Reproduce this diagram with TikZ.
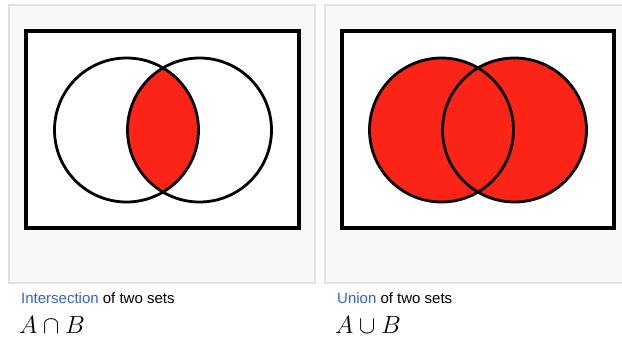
\documentclass[tikz,border=0pt]{standalone}
\usepackage{fontspec}
\newfontfamily\capfont{Liberation Sans}
\usetikzlibrary{positioning}

\definecolor{vennred}{RGB}{252,36,22}
\definecolor{linkblue}{RGB}{52,98,200}
\definecolor{panelgray}{RGB}{248,248,248}
\definecolor{panelline}{RGB}{224,224,224}

\begin{document}
\begin{tikzpicture}[
    x=1pt, y=-1pt,
    panel/.style={fill=panelgray, draw=panelline, line width=1.2pt},
    universe/.style={draw=black, fill=white, line width=3.6pt},
    setline/.style={draw=black, line width=2.8pt},
    setfill/.style={fill=vennred},
    caption/.style={font=\capfont\fontsize{15}{17}\selectfont, inner sep=0pt, anchor=base west},
    formula/.style={font=\fontsize{30.5}{33}\selectfont, inner sep=0pt, anchor=base west}
]
    \useasboundingbox (0,0) rectangle (622,338);

    % left panel: intersection
    \draw [panel] (9,5) rectangle (315,283);
    \draw [universe] (26,31) rectangle (299,228);
    \coordinate (iA) at (126.5,130);
    \coordinate (iB) at (199.5,130);
    \begin{scope}
        \clip (iA) circle (72);
        \fill [setfill] (iB) circle (72);
    \end{scope}
    \draw [setline] (iA) circle (72);
    \draw [setline] (iB) circle (72);

    % right panel: union
    \draw [panel] (622,5) -| (325,283) -- (622,283);
    \draw [universe] (342,31) rectangle (614,228);
    \coordinate (uA) at (441.5,130);
    \coordinate (uB) at (514.5,130);
    \fill [setfill] (uA) circle (72);
    \fill [setfill] (uB) circle (72);
    \draw [setline] (uA) circle (72);
    \draw [setline] (uB) circle (72);

    % captions
    \node (intertext) [caption] at (21,303) {\textcolor{linkblue}{Intersection} of two sets};
    \node (intermath) [formula] at (19,333) {$A\cap B$};
    \node (uniontext) [caption] at (337,303) {\textcolor{linkblue}{Union} of two sets};
    \node (unionmath) [formula] at (335,333) {$A\cup B$};
\end{tikzpicture}
\end{document}
